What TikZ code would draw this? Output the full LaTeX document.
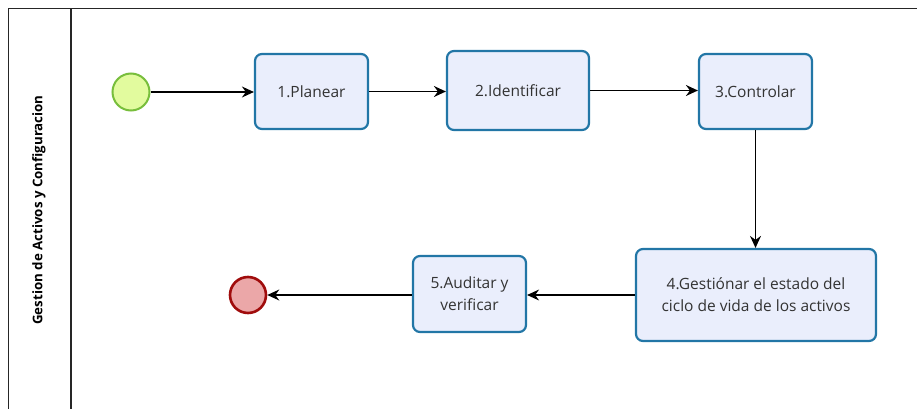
\documentclass[tikz,border=0pt]{standalone}
\usepackage{fontspec}
\setmainfont{Open Sans}
\usetikzlibrary{arrows.meta}
\definecolor{boxfill}{HTML}{EAEEFC}
\definecolor{boxdraw}{HTML}{2276A6}
\definecolor{startfill}{HTML}{E2FB9E}
\definecolor{startdraw}{HTML}{78BE3C}
\definecolor{endfill}{HTML}{EBA7A8}
\definecolor{enddraw}{HTML}{A00C0C}
\tikzset{
  task/.style={draw=boxdraw, fill=boxfill, line width=2.2pt, rounded corners=7pt, align=center, font=\fontsize{15.5}{22}\selectfont, text=black!80},
  startev/.style={circle, draw=startdraw, fill=startfill, line width=2pt, minimum size=37pt, inner sep=0pt},
  endev/.style={circle, draw=enddraw, fill=endfill, line width=2.6pt, minimum size=36pt, inner sep=0pt},
  flow/.style={-{Stealth[length=12pt,width=11pt,inset=4pt]}, line width=1.2pt},
  frame/.style={line width=1.5pt, draw=black!85}
}
\begin{document}
\begin{tikzpicture}[x=1pt,y=-1pt]
\useasboundingbox (0,0) rectangle (917,409);
% pool frame
\draw[frame] (8.5,409) -- (8.5,8.5) -- (917,8.5);
\draw[frame] (71,8.5) -- (71,409);
\node[rotate=90, font=\bfseries\fontsize{13.3}{15}\selectfont] (lane) at (39,210) {Gestion de Activos y Configuracion};
% nodes
\node[startev] (start) at (131,92) {};
\node[task, minimum width=113pt, minimum height=75pt] (t1) at (311.5,91.5) {1.Planear};
\node[task, minimum width=142pt, minimum height=79pt] (t2) at (518,90.5) {2.Identificar};
\node[task, minimum width=113pt, minimum height=75pt] (t3) at (755.5,91.5) {3.Controlar};
\node[task, minimum width=240pt, minimum height=92pt] (t4) at (756,295) {4.Gestiónar el estado del\\ciclo de vida de los activos};
\node[task, minimum width=113pt, minimum height=76pt] (t5) at (469.5,294) {5.Auditar y\\verificar};
\node[endev] (end) at (248,295) {};
% flows
\draw[flow] (start.east) -- (t1.west |- start.east);
\draw[flow] (t1.east) -- (t2.west |- t1.east);
\draw[flow] (t2.east) -- (t3.west |- t2.east);
\draw[flow] (t3.south) -- (t4.north -| t3.south);
\draw[flow] (t4.west) -- (t5.east |- t4.west);
\draw[flow] (t5.west |- end.east) -- (end.east);
\end{tikzpicture}
\end{document}
